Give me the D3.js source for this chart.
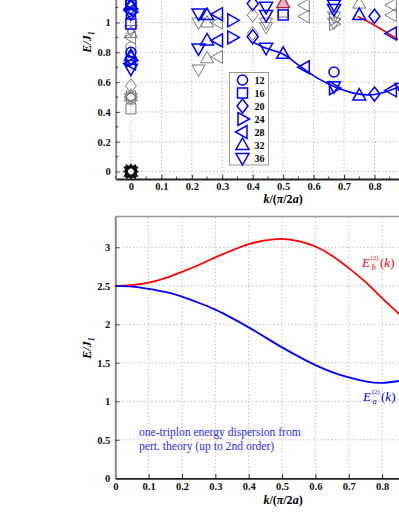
<!DOCTYPE html>
<html>
<head>
<meta charset="utf-8">
<script src="https://cdn.jsdelivr.net/npm/d3@7"></script>
<style>
  body { margin: 0; background: #fff; }
  text { font-family: "Liberation Serif", "Times New Roman", serif; }
  .tick text { font-weight: bold; font-size: 10.5px; fill: #111; }
  .grid line { stroke: #b5b5b5; stroke-dasharray: 1.2,2.4; }
</style>
</head>
<body>
<div id="chart"></div>
<script>
const svgWidth = 399;
const svgHeight = 516;

// system sizes and their marker shapes
const sizes = [12, 16, 20, 24, 28, 32, 36];
const shapes = ["circle", "square", "diamond", "right", "left", "up", "down"];

// upper panel: finite size energies, [k, E]  (blue / grey families)
const blue12 = [[0,0.80],[0,1.13],[0.667,0.668]];
const grey12 = [[0,0.836]];
const blue16 = [[0,0.99],[0,1.12],[0.5,1.05]];
const grey16 = [[0,0.42],[0.5,1.07]];
const blue20 = [[0,0.76],[0,1.10],[0.4,1.127],[0.4,0.905],[0.8,1.042],[0.8,0.52]];
const grey20 = [[0,0.575],[0.4,1.05],[0.4,0.926]];
const blue24 = [[0,0.745],[0,1.07],[0.333,1.015],[0.333,0.90],[0.667,0.56]];
const grey24 = [[0,0.50],[0.667,1.02],[0.667,0.99]];
const blue28 = [[0,0.725],[0,1.08],[0.286,1.056],[0.286,0.88],[0.571,0.70],[0.857,0.926],[0.857,0.545]];
const grey28 = [[0,0.50],[0,0.90],[0.286,1.0],[0.286,0.77],[0.571,1.116],[0.571,1.04],[0.857,1.117],[0.857,1.05]];
const blue32 = [[0,0.775],[0,1.12],[0.25,1.05],[0.25,0.88],[0.5,0.79],[0.75,1.05],[0.75,0.51]];
const grey32 = [[0,0.505],[0,0.93],[0.25,1.0],[0.25,0.76],[0.75,1.127]];
const pink32 = [[0.5,1.13]];
const blue36 = [[0,0.69],[0,1.06],[0.222,1.06],[0.222,0.826],[0.444,1.105],[0.444,1.05],[0.444,0.83],[0.667,1.12],[0.667,1.09],[0.667,0.573],[0.889,0.56]];
const grey36 = [[0,0.495],[0,0.95],[0.222,1.0],[0.222,0.685],[0.444,1.0],[0.444,0.97],[0.667,1.04],[0.667,1.0]];
const groundE = [0, 0, 0, 0, 0, 0, 0];   // k = 0 ground state for every size

// upper panel fit lines
const topBlueK = [0.40, 0.44, 0.50, 0.56, 0.61, 0.665, 0.74, 0.80, 0.88];
const topBlueE = [0.87, 0.83, 0.787, 0.70, 0.63, 0.573, 0.523, 0.517, 0.568];
const topRedK = [0.745, 0.80, 0.877];
const topRedE = [1.04, 0.982, 0.886];

// lower panel: perturbative dispersions
const botK  = [0,0.05,0.1,0.15,0.2,0.25,0.3,0.35,0.4,0.45,0.5,0.55,0.6,0.65,0.7,0.75,0.8,0.86];
const ebVals = [2.5,2.51,2.54,2.60,2.68,2.77,2.87,2.96,3.04,3.09,3.11,3.08,3.01,2.89,2.73,2.55,2.34,2.10];
const eaVals = [2.5,2.49,2.46,2.42,2.36,2.28,2.19,2.08,1.96,1.83,1.70,1.58,1.47,1.38,1.31,1.26,1.24,1.27];

// tick labels
const xTicks = [0,0.1,0.2,0.3,0.4,0.5,0.6,0.7,0.8,0.9,1];
const xMinorTop = [-0.05,0.05,0.15,0.25,0.35,0.45,0.55,0.65,0.75,0.85,0.95,1.05];
const yTicksTop = [0,0.2,0.4,0.6,0.8,1,1.2,1.4,1.6,1.8];
const yMinorTop = [0.1,0.3,0.5,0.7,0.9,1.1,1.3,1.5,1.7];
const yTicksBot = [0,0.5,1,1.5,2,2.5,3];

const svg = d3.select("#chart").append("svg")
    .attr("width", svgWidth).attr("height", svgHeight);

const fmt = d3.format("~g");

function markerPath(shape){
    switch(shape){
        case "circle": return d3.symbol(d3.symbolCircle, 80)();
        case "square": return "M-5,-5H5V5H-5Z";
        case "diamond": return "M0,-7L5.5,0L0,7L-5.5,0Z";
        case "up": return "M0,-7L6.5,4.5L-6.5,4.5Z";
        case "down": return "M0,7L6.5,-4.5L-6.5,-4.5Z";
        case "right": return "M7,0L-4.5,-6.5L-4.5,6.5Z";
        case "left": return "M-7,0L4.5,-6.5L4.5,6.5Z";
    }
}

function drawFrame(xs, ys, xt, yt, xMinor, yMinor){
    const [x0, x1] = xs.range();
    const [y0, y1] = ys.range();

    // dotted grid
    const g = svg.append("g").attr("class","grid");
    g.selectAll(".v").data(xt).enter().append("line")
        .attr("x1", d => xs(d)).attr("x2", d => xs(d)).attr("y1", y0).attr("y2", y1);
    g.selectAll(".h").data(yt).enter().append("line")
        .attr("x1", x0).attr("x2", x1).attr("y1", d => ys(d)).attr("y2", d => ys(d));

    // box top / right
    svg.append("path")
        .attr("d", "M"+x0+","+y1+"H"+x1+"V"+y0)
        .attr("fill","none").attr("stroke","#999").attr("stroke-width",1.5);

    const xaxis = d3.axisBottom(xs).tickValues(xt).tickFormat(fmt)
        .tickSizeInner(-4).tickSizeOuter(0).tickPadding(4);
    const xa = svg.append("g").attr("transform","translate(0,"+y0+")").call(xaxis);
    xa.select(".domain").attr("stroke","#222").attr("stroke-width",1.8);
    xa.selectAll(".tick line").attr("stroke","#222");

    const yaxis = d3.axisLeft(ys).tickValues(yt).tickFormat(fmt)
        .tickSizeInner(-4).tickSizeOuter(0).tickPadding(5);
    const ya = svg.append("g").attr("transform","translate("+x0+",0)").call(yaxis);
    ya.select(".domain").attr("stroke","#8a8a8a").attr("stroke-width",2);
    ya.selectAll(".tick line").attr("stroke","#444");

    if (xMinor) {
        svg.append("g").selectAll("line").data(xMinor).enter().append("line")
            .attr("x1", d => xs(d)).attr("x2", d => xs(d))
            .attr("y1", y0).attr("y2", y0 - 2.5).attr("stroke","#333");
    }
    if (yMinor) {
        svg.append("g").selectAll("line").data(yMinor).enter().append("line")
            .attr("x1", x0).attr("x2", x0 + 2.5)
            .attr("y1", d => ys(d)).attr("y2", d => ys(d)).attr("stroke","#333");
    }
}

function axisTitles(cx, cy, ylabelY){
    const t = svg.append("text")
        .attr("x", cx).attr("y", cy)
        .attr("text-anchor","middle")
        .attr("font-size", 12).attr("font-weight","bold").attr("font-style","italic");
    t.append("tspan").text("k");
    t.append("tspan").attr("font-style","normal").text("/(");
    t.append("tspan").text("\u03c0");
    t.append("tspan").attr("font-style","normal").text("/2");
    t.append("tspan").text("a");
    t.append("tspan").attr("font-style","normal").text(")");

    const yl = svg.append("text")
        .attr("transform","translate(91,"+ylabelY+")rotate(-90)")
        .attr("text-anchor","middle")
        .attr("font-size", 12).attr("font-weight","bold").attr("font-style","italic");
    yl.append("tspan").text("E/J");
    yl.append("tspan").attr("font-size", 8).attr("dy", 3).text("1");
}

// ---------------- upper panel ----------------
const xTop = d3.scaleLinear().domain([-0.05, 1.05]).range([115.7, 450.6]);
const yTop = d3.scaleLinear().domain([-0.05, 1.8]).range([179, -96.7]);

drawFrame(xTop, yTop, xTicks, yTicksTop, xMinorTop, yMinorTop);
axisTitles(283, 203, 42);

const topLine = d3.line().x(d => xTop(d[0])).y(d => yTop(d[1])).curve(d3.curveCatmullRom);
svg.append("path")
    .datum(topBlueK.map((k,i) => [k, topBlueE[i]]))
    .attr("d", topLine).attr("fill","none").attr("stroke","#0000ff").attr("stroke-width",1.6);
svg.append("path")
    .datum(topRedK.map((k,i) => [k, topRedE[i]]))
    .attr("d", topLine).attr("fill","none").attr("stroke","#ff0000").attr("stroke-width",1.6);

const greySets = [grey12, grey16, grey20, grey24, grey28, grey32, grey36];
const blueSets = [blue12, blue16, blue20, blue24, blue28, blue32, blue36];

function plotMarkers(points, shape, stroke, width, fill){
    svg.append("g").selectAll("path").data(points).enter().append("path")
        .attr("d", markerPath(shape))
        .attr("transform", d => "translate("+xTop(d[0])+","+yTop(d[1])+")")
        .attr("fill", fill || "none")
        .attr("stroke", stroke).attr("stroke-width", width);
}

groundE.forEach((e, i) => plotMarkers([[0, e]], shapes[i], "#111", 1.3));
greySets.forEach((pts, i) => plotMarkers(pts, shapes[i], "#7a7a7a", 1));
blueSets.forEach((pts, i) => plotMarkers(pts, shapes[i], "#0000ff", 1.5));
plotMarkers(pink32, "up", "#b02040", 1.3, "#f0b0c8");

// legend
const legend = svg.append("g").attr("transform","translate(229.5,72.5)");
legend.append("rect").attr("width", 39).attr("height", 92.5)
    .attr("fill","#fff").attr("stroke","#999").attr("stroke-width",1);
sizes.forEach((n, i) => {
    const ly = 7.5 + i * 13;
    legend.append("path").attr("d", markerPath(shapes[i]))
        .attr("transform","translate(13,"+ly+")")
        .attr("fill","none").attr("stroke","#0000ff").attr("stroke-width",1.5);
    legend.append("text").attr("x", 25).attr("y", ly + 3.5)
        .attr("font-size", 10).attr("font-weight","bold").text(n);
});

// ---------------- lower panel ----------------
const xBot = d3.scaleLinear().domain([0, 1]).range([115.3, 448.8]);
const yBot = d3.scaleLinear().domain([0, 3.4]).range([478.3, 216.5]);

drawFrame(xBot, yBot, xTicks, yTicksBot, null, null);
axisTitles(283, 504, 348);

const botLine = d3.line().x(d => xBot(d[0])).y(d => yBot(d[1])).curve(d3.curveNatural);
svg.append("path")
    .datum(botK.map((k,i) => [k, ebVals[i]]))
    .attr("d", botLine).attr("fill","none").attr("stroke","#ff0000").attr("stroke-width",1.8);
svg.append("path")
    .datum(botK.map((k,i) => [k, eaVals[i]]))
    .attr("d", botLine).attr("fill","none").attr("stroke","#0000ff").attr("stroke-width",1.8);

function curveLabel(x, y, sub, color){
    const g = svg.append("g").attr("fill", color).attr("font-style","italic");
    g.append("text").attr("x", x).attr("y", y).attr("font-size", 13).text("E");
    g.append("text").attr("x", x + 9).attr("y", y - 7).attr("font-size", 6.5)
        .attr("font-style","normal").text("(2)");
    g.append("text").attr("x", x + 9.5).attr("y", y + 3).attr("font-size", 8.5).text(sub);
    const t = g.append("text").attr("x", x + 18).attr("y", y).attr("font-size", 13);
    t.append("tspan").attr("font-style","normal").text("(");
    t.append("tspan").text("k");
    t.append("tspan").attr("font-style","normal").text(")");
}
curveLabel(362, 267, "b", "#ff0000");
curveLabel(363, 401, "a", "#0000ff");

const note = svg.append("text").attr("font-size", 11.6).attr("fill", "#2a2aff");
note.append("tspan").attr("x", 139).attr("y", 436).text("one-triplon energy dispersion from");
note.append("tspan").attr("x", 139).attr("y", 449.5).text("pert. theory (up to 2nd order)");
</script>
</body>
</html>
